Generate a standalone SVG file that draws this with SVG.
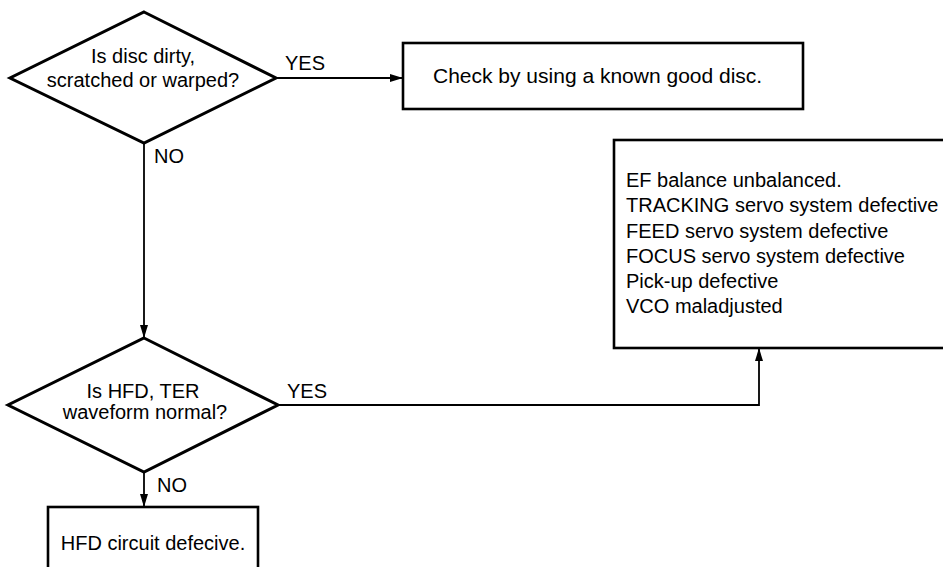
<svg xmlns="http://www.w3.org/2000/svg" width="943" height="567" viewBox="0 0 943 567">
<style>
.shape{fill:#fff;stroke:#000;stroke-width:3}
.box{fill:#fff;stroke:#000;stroke-width:2.6}
.conn{fill:none;stroke:#000;stroke-width:1.8}
text{font-family:"Liberation Sans",Arial,sans-serif;font-size:20px;fill:#000}
.c{text-anchor:middle}
.big{font-size:21px}
</style>
<defs>
<marker id="arr" markerUnits="userSpaceOnUse" markerWidth="14" markerHeight="10" refX="13" refY="5" orient="auto">
<path d="M0,1 L13,5 L0,9 Z" fill="#000"/>
</marker>
</defs>
<rect width="943" height="567" fill="#fff"/>
<g id="connectors">
<path class="conn" d="M276,78 H403" marker-end="url(#arr)"/>
<path class="conn" d="M144,143 V338" marker-end="url(#arr)"/>
<path class="conn" d="M278,405 H759 V348" marker-end="url(#arr)"/>
<path class="conn" d="M144,472 V507" marker-end="url(#arr)"/>
<text x="285" y="70">YES</text>
<text x="154" y="163">NO</text>
<text x="287" y="398">YES</text>
<text x="157" y="492">NO</text>
</g>
<g id="q1">
<polygon class="shape" points="144,12 276,78 144,143 10,78"/>
<text class="c" x="143" y="63">Is disc dirty,</text>
<text class="c" x="143" y="87">scratched or warped?</text>
</g>
<g id="good-disc">
<rect class="box" x="403" y="43" width="400" height="66"/>
<text class="big" x="433" y="83">Check by using a known good disc.</text>
</g>
<g id="q2">
<polygon class="shape" points="144,338 278,405 144,472 8,405"/>
<text class="c" x="143" y="398">Is HFD, TER</text>
<text class="c" x="145" y="419">waveform normal?</text>
</g>
<g id="causes">
<rect class="box" x="614" y="140" width="331" height="208"/>
<text x="626" y="187">EF balance unbalanced.</text>
<text x="626" y="212">TRACKING servo system defective</text>
<text x="626" y="238">FEED servo system defective</text>
<text x="626" y="263">FOCUS servo system defective</text>
<text x="626" y="288">Pick-up defective</text>
<text x="626" y="313">VCO maladjusted</text>
</g>
<g id="hfd">
<rect class="box" x="48" y="507" width="210" height="75"/>
<text class="c" x="153" y="550">HFD circuit defecive.</text>
</g>
</svg>
